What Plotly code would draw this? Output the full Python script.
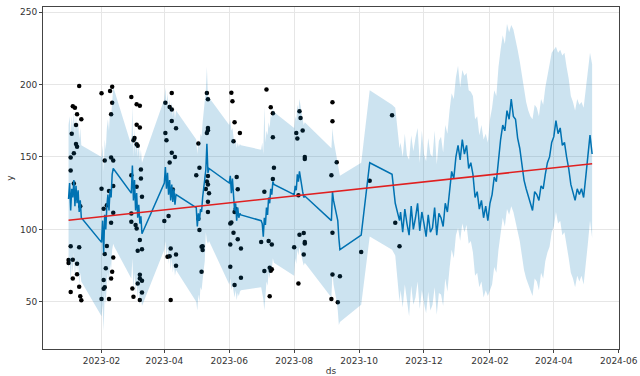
import plotly.graph_objects as go

# ---------------- observed history ----------------
obs_ds = [
    "2023-01-11","2023-01-05","2023-01-07","2023-01-09","2023-01-13","2023-01-08","2023-01-04","2023-01-08","2023-01-09",
    "2023-01-06","2023-01-03","2023-01-03","2023-01-06","2023-01-12","2023-01-03","2023-01-11","2023-01-01","2023-01-05",
    "2023-01-09","2023-01-01","2023-01-05","2023-01-09","2023-01-03","2023-01-11","2023-01-12","2023-01-13",
    "2023-02-01","2023-02-09","2023-02-11","2023-02-11","2023-02-10","2023-02-04","2023-02-10","2023-02-12","2023-02-01",
    "2023-02-03","2023-02-06","2023-02-08","2023-02-12","2023-02-12","2023-02-10","2023-02-04","2023-02-06","2023-02-12",
    "2023-02-05","2023-02-11","2023-02-10","2023-02-03","2023-02-04","2023-02-03","2023-02-01","2023-02-08",
    "2023-03-01","2023-03-06","2023-03-09","2023-03-04","2023-03-03","2023-03-06","2023-03-07","2023-03-06","2023-03-09",
    "2023-03-01","2023-03-10","2023-03-10","2023-03-11","2023-03-06","2023-03-01","2023-03-01","2023-03-05","2023-03-06",
    "2023-03-07","2023-03-11","2023-03-09","2023-03-02","2023-03-07","2023-03-09","2023-03-09","2023-03-11","2023-03-03",
    "2023-03-09","2023-03-11",
    "2023-04-02","2023-04-06","2023-04-08","2023-04-08","2023-04-08","2023-04-12","2023-04-02","2023-04-03","2023-04-08",
    "2023-04-11","2023-04-06","2023-04-09","2023-04-05","2023-04-01","2023-04-04","2023-04-06","2023-04-07","2023-04-12",
    "2023-04-12","2023-04-07",
    "2023-05-11","2023-05-12","2023-05-12","2023-05-12","2023-05-11","2023-05-03","2023-05-04","2023-05-01","2023-05-12",
    "2023-05-11","2023-05-12","2023-05-10","2023-05-13","2023-05-12","2023-05-12","2023-05-03","2023-05-04","2023-05-06",
    "2023-05-07","2023-05-07","2023-05-06",
    "2023-06-03","2023-06-04","2023-06-06","2023-06-11","2023-06-05","2023-06-08","2023-06-09","2023-06-06","2023-06-07",
    "2023-06-02","2023-06-03","2023-06-05","2023-06-02","2023-06-09","2023-06-12","2023-06-02","2023-06-12","2023-06-06",
    "2023-07-06","2023-07-10","2023-07-12","2023-07-12","2023-07-13","2023-07-12","2023-07-04","2023-07-08","2023-07-01",
    "2023-07-11","2023-07-04","2023-07-09","2023-07-10","2023-07-11","2023-07-09",
    "2023-08-06","2023-08-07","2023-08-09","2023-08-03","2023-08-04","2023-08-11","2023-08-11","2023-08-05","2023-08-06",
    "2023-08-10","2023-08-11","2023-08-11","2023-08-01","2023-08-10","2023-08-05",
    "2023-09-06","2023-09-06","2023-09-10","2023-09-05","2023-09-06","2023-09-06","2023-09-13","2023-09-05","2023-09-11",
    "2023-10-11","2023-10-03",
    "2023-11-01","2023-11-04","2023-11-08",
]
obs_y = [
    199,185,184,179.5,176,172,166,159,157,
    152.6,149.6,140.6,131.6,116,88.4,87.7,78.8,79,
    76.3,76.7,66,69,56.7,60.4,53.9,51.1,
    194,195.5,198.5,187.4,179.4,147.5,149.6,147.5,128,
    114.3,116.7,126.4,130,111.4,104.5,82.9,88.5,80.6,
    73.1,70.8,66.1,65,60,59,51.9,51.9,
    191.4,186.3,185.3,163,161.5,158.8,157.7,172.2,170.3,
    137.4,141.3,135.1,122.5,129.4,111,105.2,103,100.6,
    85.3,86.3,92.6,59.2,62.7,68.6,66,64.5,53.5,
    51.2,56.4,
    187.4,184.5,182.7,194.2,174.8,169.8,166.6,161.5,152.8,
    150,146.2,127.5,109.2,105.7,81,81.4,86.7,82.6,
    74.9,51.2,
    194.2,189.8,170,168.5,166.5,159.2,142.5,137.4,136.9,
    133,131,127.8,125,119,111.9,107.3,99.5,88,
    88.3,85.7,70.8,
    194.3,188.5,174,166.6,160.8,136.2,127.7,112,114,
    104,104.7,97.7,89.6,93.1,86.7,74.2,66.6,61.5,
    196.5,184.3,180.2,163.6,142.5,134.7,125.9,92,91.3,
    89.6,71.2,73.5,71.5,72.5,53.9,
    181.5,176.8,168.3,166.6,162.7,150,148.6,123.6,96.3,
    97.4,91.3,90.2,87.7,82.6,62.7,
    187.7,174.7,146.4,137.4,97.7,68.9,67.7,51.9,49.6,
    133.6,84.4,
    178.7,104.6,88.3,
]

# ---------------- forecast (yhat and interval) ----------------
fc_ds = [
    # history dates
    "2023-01-01","2023-01-02","2023-01-03","2023-01-04","2023-01-05","2023-01-06","2023-01-07","2023-01-08","2023-01-09",
    "2023-01-10","2023-01-11","2023-01-12","2023-01-13",
    "2023-02-01","2023-02-02","2023-02-03","2023-02-04","2023-02-05","2023-02-06","2023-02-07","2023-02-08","2023-02-09",
    "2023-02-10","2023-02-11","2023-02-12","2023-02-13",
    "2023-03-01","2023-03-02","2023-03-03","2023-03-04","2023-03-05","2023-03-06","2023-03-07","2023-03-08","2023-03-09",
    "2023-03-10","2023-03-11",
    "2023-04-01","2023-04-02","2023-04-03","2023-04-04","2023-04-05","2023-04-06","2023-04-07","2023-04-08","2023-04-09",
    "2023-04-10","2023-04-11","2023-04-12",
    "2023-05-01","2023-05-02","2023-05-03","2023-05-04","2023-05-05","2023-05-06","2023-05-07","2023-05-08","2023-05-09",
    "2023-05-10","2023-05-11","2023-05-12","2023-05-13",
    "2023-06-01","2023-06-02","2023-06-03","2023-06-04","2023-06-05","2023-06-06","2023-06-07","2023-06-08","2023-06-09",
    "2023-06-10","2023-06-11","2023-06-12",
    "2023-07-01","2023-07-02","2023-07-03","2023-07-04","2023-07-05","2023-07-06","2023-07-07","2023-07-08","2023-07-09",
    "2023-07-10","2023-07-11","2023-07-12","2023-07-13",
    "2023-08-01","2023-08-02","2023-08-03","2023-08-04","2023-08-05","2023-08-06","2023-08-07","2023-08-08","2023-08-09",
    "2023-08-10","2023-08-11",
    "2023-09-05","2023-09-06","2023-09-07","2023-09-08","2023-09-09","2023-09-10","2023-09-11","2023-09-12","2023-09-13",
    "2023-10-03","2023-10-11",
    "2023-11-01","2023-11-04","2023-11-08",
    # future dates
    "2023-11-09","2023-11-11","2023-11-13","2023-11-15","2023-11-17","2023-11-19","2023-11-21","2023-11-23","2023-11-25",
    "2023-11-27","2023-11-29","2023-12-01","2023-12-03","2023-12-05","2023-12-07","2023-12-09","2023-12-11","2023-12-13",
    "2023-12-15","2023-12-17","2023-12-19","2023-12-21","2023-12-23","2023-12-25","2023-12-27","2023-12-29","2023-12-31",
    "2024-01-02","2024-01-04","2024-01-06","2024-01-08","2024-01-10","2024-01-12","2024-01-14","2024-01-16","2024-01-18",
    "2024-01-20","2024-01-22","2024-01-24","2024-01-26","2024-01-28","2024-01-30","2024-02-01","2024-02-03","2024-02-05",
    "2024-02-07","2024-02-09","2024-02-11","2024-02-13","2024-02-15","2024-02-17","2024-02-19","2024-02-21","2024-02-23",
    "2024-02-25","2024-02-27","2024-02-29","2024-03-02","2024-03-04","2024-03-06","2024-03-08","2024-03-10","2024-03-12",
    "2024-03-14","2024-03-16","2024-03-18","2024-03-20","2024-03-22","2024-03-24","2024-03-26","2024-03-28","2024-03-30",
    "2024-04-01","2024-04-03","2024-04-05","2024-04-07","2024-04-09","2024-04-11","2024-04-13","2024-04-15","2024-04-17",
    "2024-04-19","2024-04-21","2024-04-23","2024-04-25","2024-04-27","2024-04-29","2024-05-01","2024-05-03","2024-05-05",
    "2024-05-07",
]
fc_yhat = [
    121,132,113,128,122,134,116,130,118,127,112,120,108,
    91,106,84,110,100,116,124,113,127,122,138,142,141,
    125,144,120,134,113,125,108,117,104,109,97,
    132,143,128,139,124,134,120,131,119,128,117,124,
    115,102,111,106,114,112,122,129,136,141,159,139,142,
    132,137,125,135,121,113,118,106,115,108,111,110,
    106,104,95,108,103,115,110,122,118,128,124,133,131,
    124,130,127,138,133,140,134,129,126,122,123,
    106,126,120,116,112,110,106,94,86,
    96,146,
    138,118,106,
    112,98,114,104,96,116,100,108,118,
    99,112,104,95,110,98,101,115,96,
    111,108,102,118,112,126,140,135,150,
    158,148,162,152,158,142,146,138,122,
    126,114,120,108,116,106,118,124,136,
    133,150,162,172,168,182,176,190,178,
    176,163,156,144,134,128,122,118,113,
    126,124,120,130,128,138,146,150,160,
    164,175,166,170,158,160,150,142,131,
    126,120,128,124,128,122,136,152,165,
    152,
]
fc_lower = [
    72,80,63,77,70,84,66,79,70,77,62,70,64,
    40,48,30,56,48,64,70,62,76,72,86,90,88,
    66,80,58,70,56,64,52,60,48,54,47,
    86,92,80,88,76,84,72,80,70,76,68,72,
    50,44,55,50,60,58,68,72,78,98,92,90,92,
    62,66,58,62,56,53,58,51,56,54,57,58,
    60,56,52,44,58,64,61,70,66,75,72,80,77,
    68,80,76,86,82,88,84,80,78,75,77,
    53,70,62,58,55,50,44,34,36,
    48,95,
    86,82,50,
    58,46,62,52,40,61,48,53,64,
    45,58,49,42,57,44,48,60,41,
    56,55,47,66,57,73,86,80,96,
    101,92,104,98,103,90,92,84,68,
    70,60,64,53,58,54,58,62,74,
    70,86,98,108,102,114,110,116,112,
    106,98,92,82,72,66,62,58,54,
    66,64,58,70,66,78,84,88,98,
    102,112,104,106,96,98,90,80,70,
    66,60,68,64,68,62,74,90,106,
    94,
]
fc_upper = [
    172,178,165,178,170,181,166,179,168,176,162,170,158,
    150,158,140,162,155,170,176,168,182,178,192,198,196,
    158,185,150,170,152,165,150,160,148,155,146,
    190,198,186,194,182,190,180,188,178,185,176,182,
    162,152,162,156,166,164,174,180,188,196,212,192,191,
    172,176,168,170,164,158,163,156,160,157,159,158,
    155,160,152,185,160,168,165,174,170,180,177,184,181,
    170,178,175,186,182,190,184,180,176,172,174,
    156,170,162,158,154,150,146,140,137,
    146,196,
    186,184,156,
    160,150,166,151,148,165,154,163,170,
    146,168,152,147,163,152,150,168,145,
    161,164,153,172,166,182,194,190,205,
    213,198,210,206,208,196,195,192,176,
    178,165,172,162,166,160,176,184,196,
    192,212,224,234,228,242,236,241,238,
    232,224,216,206,196,188,182,178,176,
    186,184,178,190,186,198,206,212,222,
    224,226,222,224,220,222,212,204,192,
    188,182,190,186,188,184,198,212,222,
    214,
]

# ---------------- trend ----------------
trend_ds = ["2023-01-01", "2024-05-07"]
trend_val = [106.3, 145.3]

x_ticks_start = "2023-02-01"
y_ticks = [50, 100, 150, 200, 250]

FONT = "DejaVu Sans, Liberation Sans, sans-serif"
BLUE = "#0072B2"

fig = go.Figure()
fig.add_trace(go.Scatter(x=obs_ds, y=obs_y, mode="markers",
                         marker=dict(color="black", size=4.5, line=dict(width=0)),
                         showlegend=False, hoverinfo="skip"))
fig.add_trace(go.Scatter(x=fc_ds, y=fc_yhat, mode="lines",
                         line=dict(color=BLUE, width=1.5), showlegend=False))
fig.add_trace(go.Scatter(x=fc_ds, y=fc_upper, mode="lines",
                         line=dict(color="rgba(0,0,0,0)", width=0), showlegend=False))
fig.add_trace(go.Scatter(x=fc_ds, y=fc_lower, mode="lines", fill="tonexty",
                         fillcolor="rgba(0,114,178,0.2)",
                         line=dict(color="rgba(0,0,0,0)", width=0), showlegend=False))
fig.add_trace(go.Scatter(x=trend_ds, y=trend_val, mode="lines",
                         line=dict(color="#e02020", width=1.6), showlegend=False))

axis_common = dict(
    showgrid=True, gridcolor="#e6e6e6", gridwidth=1,
    showline=True, mirror=True, linecolor="#444", linewidth=1,
    ticks="outside", ticklen=3, tickcolor="#444",
    tickfont=dict(family=FONT, size=9, color="#333"),
    zeroline=False, automargin=False,
)

fig.update_layout(
    width=640, height=376,
    margin=dict(l=43, r=21, t=7, b=27),
    paper_bgcolor="white", plot_bgcolor="white",
    font=dict(family=FONT, size=9, color="#333"),
    hovermode=False,
    xaxis=dict(range=["2022-12-08", "2024-06-01 06:00"], type="date",
               tick0=x_ticks_start, dtick="M2", tickformat="%Y-%m",
               title=dict(text="ds", font=dict(family=FONT, size=9, color="#333"), standoff=2),
               **axis_common),
    yaxis=dict(range=[17.4, 253.5], tickvals=y_ticks,
               title=dict(text="y", font=dict(family=FONT, size=9, color="#333"), standoff=4),
               **axis_common),
)

fig.write_html("out.html",
               config={"displayModeBar": False, "staticPlot": True},
               post_script="document.body.style.margin='0px';document.body.style.overflow='hidden';")
